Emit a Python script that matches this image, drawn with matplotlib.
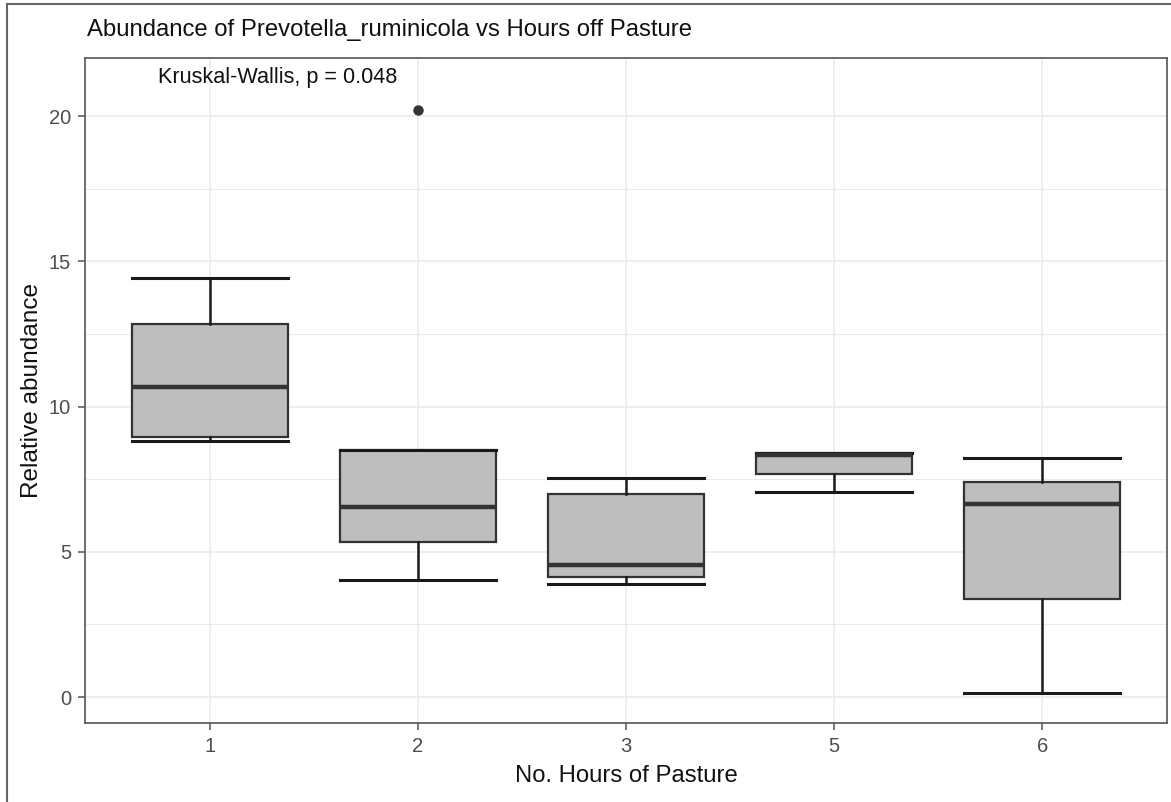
import matplotlib

matplotlib.use('Agg')
import matplotlib.pyplot as plt
from matplotlib.lines import Line2D

# hours off pasture groups and their box summaries
hours = ['1', '2', '3', '5', '6']
q1 = [8.96, 5.33, 4.14, 7.68, 3.38]
median = [10.68, 6.53, 4.54, 8.33, 6.64]
q3 = [12.86, 8.50, 6.99, 8.41, 7.41]
whisker_lo = [8.82, 4.03, 3.89, 7.07, 0.13]
whisker_hi = [14.43, 8.50, 7.53, 8.41, 8.24]
outliers = [[], [20.2], [], [], []]

p_label = 'Kruskal-Wallis, p = 0.048'

plt.rcParams['font.family'] = ['Liberation Sans', 'DejaVu Sans']

fig = plt.figure(figsize=(11.71, 8.02), dpi=100)
ax = fig.add_axes([0.0726, 0.0989, 0.9240, 0.8288])

stats = []
for i, h in enumerate(hours):
    stats.append(dict(label=h, q1=q1[i], med=median[i], q3=q3[i],
                      whislo=whisker_lo[i], whishi=whisker_hi[i], fliers=outliers[i]))

pos = list(range(1, len(hours) + 1))
ax.bxp(stats, positions=pos, widths=0.75, capwidths=0.75, patch_artist=True,
       boxprops=dict(facecolor='#bebebe', edgecolor='#333333', linewidth=1.6),
       medianprops=dict(color='#333333', linewidth=3.2, solid_capstyle='butt'),
       whiskerprops=dict(color='#1a1a1a', linewidth=1.8),
       capprops=dict(color='#1a1a1a', linewidth=2.2),
       flierprops=dict(marker='o', markerfacecolor='#333333', markeredgecolor='#333333',
                       markersize=6.5),
       zorder=3)

ax.set_xlim(0.4, len(hours) + 0.6)
ax.set_ylim(-0.88, 22.0)
ax.set_xticks(pos)
ax.set_xticklabels(hours)
ax.set_yticks([0, 5, 10, 15, 20])
ax.set_yticks([2.5, 7.5, 12.5, 17.5], minor=True)

# ggplot-like bw theme
ax.set_axisbelow(True)
ax.grid(which='major', color='#ebebeb', linewidth=1.2)
ax.grid(which='minor', axis='y', color='#ebebeb', linewidth=0.7)
for s in ax.spines.values():
    s.set_color('#555555')
    s.set_linewidth(1.2)
ax.tick_params(which='major', length=5, width=1.1, color='#555555',
               labelcolor='#4d4d4d', labelsize=14.5, pad=5)
ax.tick_params(which='minor', length=0)

ax.text(0.75, 21.34, p_label, fontsize=15.6, ha='left', va='center', color='#111111')

ax.set_xlabel('No. Hours of Pasture', fontsize=17.2, color='#111111', labelpad=7)
ax.set_ylabel('Relative abundance', fontsize=17.6, color='#111111', labelpad=4)
fig.text(87 / 1171, 1 - 30 / 802, 'Abundance of Prevotella_ruminicola vs Hours off Pasture',
         fontsize=17.2, ha='left', va='center', color='#111111')

# frame around the figure (left and top edges)
fig.add_artist(Line2D([7 / 1171, 7 / 1171], [0, 1 - 4 / 802], transform=fig.transFigure,
                      color='#666666', linewidth=1.5))
fig.add_artist(Line2D([7 / 1171, 1], [1 - 4 / 802, 1 - 4 / 802], transform=fig.transFigure,
                      color='#666666', linewidth=1.5))

fig.savefig('out.png', dpi=100)
